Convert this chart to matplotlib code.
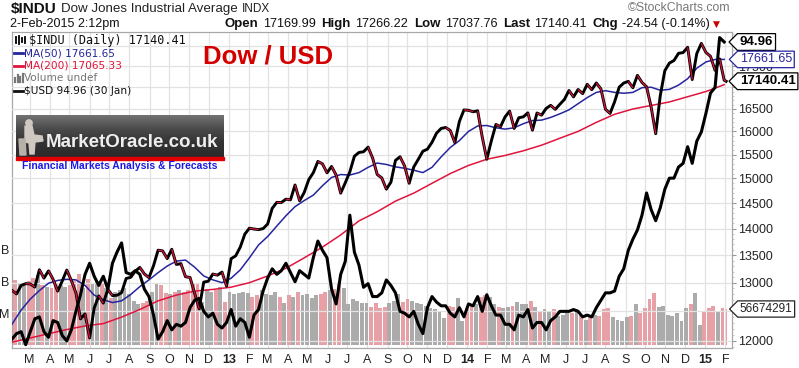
"""Dow Jones ($INDU) diário com MM50, MM200, volume e sobreposição do $USD."""

import numpy as np
import pandas as pd
import matplotlib
matplotlib.use("Agg")
import matplotlib.pyplot as plt
import matplotlib.dates as mdates
import matplotlib.transforms as mtrans
from matplotlib.collections import LineCollection
from matplotlib.lines import Line2D
from matplotlib.patches import Rectangle, Polygon, Circle
from matplotlib.path import Path
from matplotlib.ticker import FixedLocator, FixedFormatter, NullFormatter

plt.rcParams["font.family"] = ["Liberation Sans", "DejaVu Sans"]

W, H = 799, 368

# fechamentos semanais (sextas) + último pregão
semanas = list(pd.date_range("2012-02-03", "2015-01-30", freq="W-FRI")) + [pd.Timestamp("2015-02-02")]

dow_fechamento = [
    # 2012
    12862, 12801, 12950, 12983,
    12977, 12922, 13233, 13081, 13212,
    13060, 12850, 13029, 13228,
    13038, 12821, 12369, 12455,
    12050, 12554, 12767, 12640, 12880,
    12772, 12777, 12822, 13075,
    13096, 13207, 13275, 13157, 13090,
    13306, 13593, 13579, 13437,
    13610, 13329, 13344, 13107,
    13093, 12815, 12540, 13010, 13026,
    13155, 13135, 13190, 12938,
    # 2013
    13435, 13488, 13650, 13896,
    14010, 13993, 13982, 14001,
    14090, 14397, 14515, 14512, 14579,
    14565, 14865, 14547, 14712,
    14974, 15118, 15354, 15303, 15116,
    15248, 15070, 14700, 14910,
    15136, 15464, 15544, 15559,
    15658, 15425, 15081, 15010, 14780,
    14922, 15376, 15452, 15258,
    14900, 15237, 15399, 15570,
    15615, 15762, 15962, 16065, 16086,
    16020, 15755, 16221, 16479,
    # 2014
    16470, 16437, 16459, 15879, 15400,
    15794, 16154, 16103, 16321,
    16452, 16065, 16302, 16323,
    16412, 16027, 16409, 16361,
    16513, 16583, 16491, 16606, 16717,
    16924, 16776, 16947, 16851,
    17068, 16944, 17100, 16961,
    16493, 16400, 16663, 17001, 17098,
    17138, 16988, 17280, 17113,
    17010, 16544, 15950, 16805, 17391,
    17573, 17635, 17810, 17828,
    17959, 17180, 17805, 18054,
    # 2015
    17833, 17737, 17400, 17673, 17165,
    17140,
]

# média móvel de 50 dias, lida a cada 2 semanas
mm50 = [
    12280, 12520, 12710, 12860, 12990, 13040, 13060, 13050, 12950, 12780,
    12700, 12650, 12680, 12790, 12930, 13050, 13180, 13300, 13390, 13410,
    13280, 13120, 13050, 13000,
    13080, 13230, 13450, 13690, 13850, 14050, 14250, 14430, 14550, 14660,
    14850, 15020, 15080, 15070, 15120, 15230, 15320, 15290, 15240, 15210,
    15170, 15120, 15230, 15450, 15650, 15800,
    16000, 16120, 16130, 16080, 16050, 16080, 16170, 16240, 16250, 16310,
    16390, 16480, 16620, 16760, 16880, 16920, 16880, 16860, 16880, 16990,
    17000, 16930, 16950, 17050, 17200, 17450,
    17600, 17660, 17662,
]

# média móvel de 200 dias, lida a cada 4 semanas
mm200 = [
    11980, 12050, 12120, 12190, 12250, 12290, 12400, 12530, 12680, 12780,
    12850, 12880, 12920, 13000, 13120, 13260, 13450, 13650, 13880, 14150,
    14330, 14540, 14700, 14900, 15100, 15270, 15400, 15480, 15580, 15700,
    15850, 16000, 16200, 16380, 16500, 16580, 16660, 16780, 16900, 17060,
]

# índice do dólar, até 30 jan 2015
usd = [
    # 2012
    78.9, 79.2, 79.3, 78.6,
    79.3, 80.0, 80.1, 79.3, 79.0,
    79.9, 79.8, 79.1, 78.8,
    79.4, 80.4, 81.3, 82.4,
    83.0, 82.3, 81.8, 82.3, 81.6,
    83.0, 83.6, 84.1, 82.5,
    82.4, 82.6, 82.4, 81.6, 81.2,
    80.2, 78.9, 79.3, 79.9,
    79.4, 79.7, 79.6, 79.8,
    80.6, 81.0, 81.1, 80.4, 80.1,
    80.3, 79.7, 79.5, 79.8,
    # 2013
    80.5, 79.6, 80.0, 79.8,
    79.0, 80.2, 80.5, 81.5,
    82.2, 82.7, 82.4, 82.6, 83.0,
    82.5, 82.0, 82.6, 82.4,
    82.2, 83.3, 84.2, 83.7, 83.3,
    81.6, 80.8, 82.4, 83.1,
    85.6, 83.6, 82.9, 81.7,
    81.9, 81.2, 81.2, 81.4, 82.1,
    81.8, 81.4, 80.4, 80.3,
    80.1, 80.4, 79.7, 79.2,
    80.6, 81.2, 80.9, 80.7, 80.7,
    80.3, 80.1, 80.6, 80.1,
    # 2014
    80.8, 80.7, 81.2, 80.4, 81.3,
    80.7, 80.2, 80.2, 79.7,
    79.7, 79.4, 80.2, 80.1,
    80.5, 79.5, 79.8, 79.8,
    79.4, 79.9, 80.1, 80.4, 80.4,
    80.4, 80.5, 80.4, 80.1,
    80.2, 80.1, 80.6, 81.0,
    81.4, 81.4, 81.5, 82.3, 82.7,
    83.7, 84.3, 84.8, 85.6,
    86.8, 85.9, 85.3, 86.0, 87.0,
    87.6, 87.6, 88.2, 88.4,
    89.3, 88.4, 89.6, 90.1,
    # 2015
    91.1, 92.2, 92.5, 95.2, 94.96,
]

# volume médio diário (milhões)
volume_mi = [
    # 2012
    108, 102, 98, 96,
    100, 106, 110, 95, 92,
    90, 98, 94, 92,
    94, 100, 112, 90,
    104, 96, 100, 96, 90,
    74, 84, 86, 90,
    80, 70, 64, 66, 70,
    84, 98, 94, 82,
    80, 84, 86, 84,
    86, 96, 98, 68, 88,
    84, 86, 92, 68,
    # 2013
    84, 80, 82, 84,
    82, 76, 78, 86,
    80, 78, 84, 76, 66,
    78, 76, 84, 78,
    80, 74, 78, 80, 84,
    86, 88, 96, 90,
    64, 72, 70, 66,
    66, 60, 66, 58, 60,
    66, 70, 80, 68,
    72, 70, 66, 64,
    62, 58, 56, 54, 42,
    62, 60, 74, 38,
    # 2014
    56, 62, 64, 76, 78,
    76, 64, 60, 58,
    60, 62, 68, 64,
    64, 70, 60, 54,
    56, 54, 56, 46, 48,
    50, 50, 56, 48,
    40, 46, 48, 46,
    56, 58, 44, 40, 38,
    44, 46, 64, 50,
    58, 72, 82, 60, 62,
    48, 46, 50, 38,
    58, 64, 82, 32,
    # 2015
    52, 58, 62, 54, 58,
    56.674291,
]

precos_eixo = list(range(12000, 18001, 500))
precos_ocultos = {12500, 17000, 18000}  # ficam sob as etiquetas da direita
vol_eixo = [50, 100, 150]
vol_rotulos = ["M", "B", "B"]

PRETO = "#000000"
VERMELHO = "#E0143C"
AZUL = "#25259E"
ROSA_VOL = "#E7A1A6"
CINZA_VOL = "#ABABAB"
GRADE = "#E2E2E2"
MOLDURA = "#A8A8A8"


def fx(px):
    return px / W


def fy(py):
    return 1 - py / H


def caixa_seta(x0, y0, width, height, mutation_size):
    """Caixa com ponta à esquerda, como as etiquetas do StockCharts."""
    pad = 0.18 * mutation_size
    x0, y0 = x0 - pad, y0 - pad
    width, height = width + 2 * pad, height + 2 * pad
    ponta = height / 2
    verts = [(x0 - ponta, y0 + height / 2), (x0, y0), (x0 + width, y0),
             (x0 + width, y0 + height), (x0, y0 + height), (x0 - ponta, y0 + height / 2)]
    return Path(verts, closed=True)


x = mdates.date2num(semanas)

fig = plt.figure(figsize=(W / 100, H / 100), dpi=100)
ESQ, DIR, TOPO, BASE = 12, 732, 32, 348
axv = fig.add_axes([fx(ESQ), fy(BASE), (DIR - ESQ) / W, (BASE - TOPO) / H])
ax = axv.twinx()
axu = axv.twinx()

# volume
sobe = np.r_[True, np.diff(dow_fechamento) >= 0]
cores_vol = np.where(sobe, CINZA_VOL, ROSA_VOL)
centros = x.copy()
centros[:-1] -= 2.5
larguras = np.r_[np.full(len(x) - 1, 6.0), 1.5]
axv.bar(centros, volume_mi, width=larguras, color=cores_vol, linewidth=0, zorder=2)
axv.set_ylim(-4.7, 492.7)
axv.set_yticks(vol_eixo, labels=vol_rotulos)
axv.tick_params(axis="y", length=0, pad=2, labelsize=9, labelcolor="#222")

# eixo x mensal
meses = pd.date_range("2012-03-01", "2015-02-01", freq="MS")
rotulos = [f"{d.year % 100}" if d.month == 1 else d.strftime("%b")[0] for d in meses]
axv.set_xticks(mdates.date2num(meses), labels=rotulos)
for t, d in zip(axv.get_xticklabels(), meses):
    if d.month == 1:
        t.set_fontweight("bold")
        t.set_fontsize(10.5)
axv.tick_params(axis="x", length=0, pad=4, labelsize=9, labelcolor="#222")
axv.set_xlim(mdates.date2num(pd.Timestamp("2012-02-03")), mdates.date2num(pd.Timestamp("2015-02-11")))
axv.grid(axis="x", color=GRADE, lw=0.9, zorder=0)
axv.set_axisbelow(True)

# preço (log)
ax.set_yscale("log")
ax.set_ylim(11885, 18339)
ax.yaxis.set_major_locator(FixedLocator(precos_eixo))
ax.yaxis.set_major_formatter(FixedFormatter(["" if p in precos_ocultos else str(p) for p in precos_eixo]))
ax.yaxis.set_minor_locator(FixedLocator(range(11900, 18400, 100)))
ax.yaxis.set_minor_formatter(NullFormatter())
ax.tick_params(axis="y", which="major", length=3, width=0.8, color="#999", labelsize=9, pad=1.5, labelcolor="#222")
ax.tick_params(axis="y", which="minor", length=1.5, width=0.6, color="#BBB")
ax.grid(axis="y", which="major", color=GRADE, lw=0.9)
ax.set_axisbelow(True)

ax.plot(x[::4], mm200, color=VERMELHO, lw=1.1, zorder=3)
ax.plot(x[::2], mm50, color=AZUL, lw=1.1, zorder=3)
ax.plot(x, dow_fechamento, color=PRETO, lw=2.1, zorder=4, solid_joinstyle="round")
pontos = np.column_stack([x, dow_fechamento])
segs = np.stack([pontos[:-1], pontos[1:]], axis=1)
queda = np.diff(dow_fechamento) < 0
ax.add_collection(LineCollection(segs[queda], colors=VERMELHO, linewidths=0.9, zorder=5))

# dólar
axu.plot(x[:len(usd)], usd, color=PRETO, lw=2.2, zorder=4)
axu.set_ylim(78.42, 95.50)
axu.yaxis.set_visible(False)

for a in (axv, ax, axu):
    for s in a.spines.values():
        s.set_color(MOLDURA)
        s.set_linewidth(0.9)
for a in (ax, axu):
    for s in a.spines.values():
        s.set_visible(False)


def etiqueta(eixo, valor, texto, cor, negrito, tam):
    trans = mtrans.blended_transform_factory(eixo.transAxes, eixo.transData)
    axu.annotate(texto, xy=(1, valor), xycoords=trans, xytext=(5.6, 0), textcoords="offset points",
                 va="center", ha="left", fontsize=tam, color=cor,
                 fontweight="bold" if negrito else "normal",
                 bbox=dict(boxstyle=caixa_seta, fc="white", ec=cor, lw=0.9),
                 annotation_clip=False, zorder=20)


etiqueta(axu, usd[-1], f"{usd[-1]:.2f}", PRETO, True, 9.5)
etiqueta(ax, 17661.65, "17661.65", AZUL, False, 9)
etiqueta(ax, 17140.41, "17140.41", PRETO, True, 9.5)
etiqueta(axv, volume_mi[-1], f"{volume_mi[-1] * 1e6:.0f}", "#222", False, 8.5)

# cabeçalho
rend = fig.canvas.get_renderer()


def texto_seq(x0, y0, partes):
    xc = x0
    for texto, estilo, gap in partes:
        t = fig.text(fx(xc), fy(y0), texto, ha="left", va="center", **estilo)
        xc = t.get_window_extent(rend).x1 + gap
    return xc


NEG = dict(fontsize=9.5, fontweight="bold", color="#111")
NOR = dict(fontsize=9.1, color="#111")
texto_seq(11, 9, [("$INDU", dict(fontsize=11, fontweight="bold", color="#111"), 4),
                  ("Dow Jones Industrial Average", dict(fontsize=9.6, color="#222"), 4),
                  ("INDX", dict(fontsize=8.5, color="#222"), 0)])
fig.text(fx(10), fy(24), "2-Feb-2015 2:12pm", ha="left", va="center", fontsize=9, color="#111")
fim = texto_seq(225, 24, [("Open", NEG, 4.5), ("17169.99", NOR, 5.5), ("High", NEG, 4.5), ("17266.22", NOR, 5.5),
                          ("Low", NEG, 4.5), ("17037.76", NOR, 5.5), ("Last", NEG, 4.5), ("17140.41", NOR, 5.5),
                          ("Chg", NEG, 4.5), ("-24.54 (-0.14%)", NOR, 3)])
fig.text(fx(fim), fy(24.5), "▼", ha="left", va="center", fontsize=6.5, color="#CC0000", family="DejaVu Sans")
fig.text(fx(730), fy(8), "©StockCharts.com", ha="right", va="center", fontsize=8.8, color="#777")


# legenda
def linha_px(xs, ys, **kw):
    fig.add_artist(Line2D([fx(v) for v in xs], [fy(v) for v in ys], transform=fig.transFigure, **kw))


for xb, y1, y2 in [(16, 37, 43), (19, 36, 44), (22, 38, 42), (25, 37, 43)]:
    linha_px([xb, xb], [y1, y2], color=PRETO, lw=1.3)
fig.text(fx(29), fy(40.5), "$INDU (Daily) 17140.41", ha="left", va="center", fontsize=8.5,
         family="DejaVu Sans Mono", color="#111")
legenda = [("MA(50) 17661.65", AZUL, 53), ("MA(200) 17065.33", VERMELHO, 65.5),
           ("Volume undef", "#777", 78), ("$USD 94.96 (30 Jan)", "#111", 90.5)]
for texto, cor, yy in legenda:
    if texto.startswith("Volume"):
        for xb, h in [(15, 4), (17.5, 7), (20, 5), (22.5, 8)]:
            linha_px([xb, xb], [yy + 4, yy + 4 - h], color="#777", lw=1.6)
    else:
        linha_px([14.5, 22.5], [yy, yy], color=cor, lw=2.0)
    fig.text(fx(24), fy(yy), texto, ha="left", va="center", fontsize=7.6, family="DejaVu Sans", color=cor)

fig.text(fx(203), fy(57), "Dow / USD", ha="left", va="center", fontsize=18.5, fontweight="bold", color="#D40000")

# logotipo MarketOracle
axl = fig.add_axes([fx(16), fy(157), 208 / W, 42 / H])
grad = np.linspace(0, 1, 42)[:, None]
axl.imshow(grad, aspect="auto", cmap=matplotlib.colors.LinearSegmentedColormap.from_list(
    "logo", ["#727272", "#4a4a4a", "#333333", "#2b2b2b"]), extent=(0, 208, 42, 0))
axl.set_xlim(0, 208)
axl.set_ylim(42, 0)
axl.axis("off")
cor_estatua = "#CFC8C0"
axl.add_patch(Circle((13, 8), 3.2, color=cor_estatua))
axl.add_patch(Polygon([(9, 11), (16, 11), (18, 20), (26, 21), (27, 26), (19, 27), (18, 39), (14, 39),
                       (13, 28), (9, 27)], closed=True, color=cor_estatua))
axl.add_patch(Polygon([(3, 24), (9, 24), (10, 40), (4, 40)], closed=True, color="#B8B1AA"))
axl.text(30, 28, "MarketOracle.co.uk", ha="left", va="center", fontsize=13.5, fontweight="bold", color="#EEEEEE")
fig.add_artist(Rectangle((fx(16), fy(160)), 208 / W, 3 / H, transform=fig.transFigure, color="#E00000"))
fig.text(fx(120), fy(166), "Financial Markets Analysis & Forecasts", ha="center", va="center",
         fontsize=7.5, fontweight="bold", color="#1A1AE6")

fig.savefig("out.png", dpi=100, facecolor="white")
